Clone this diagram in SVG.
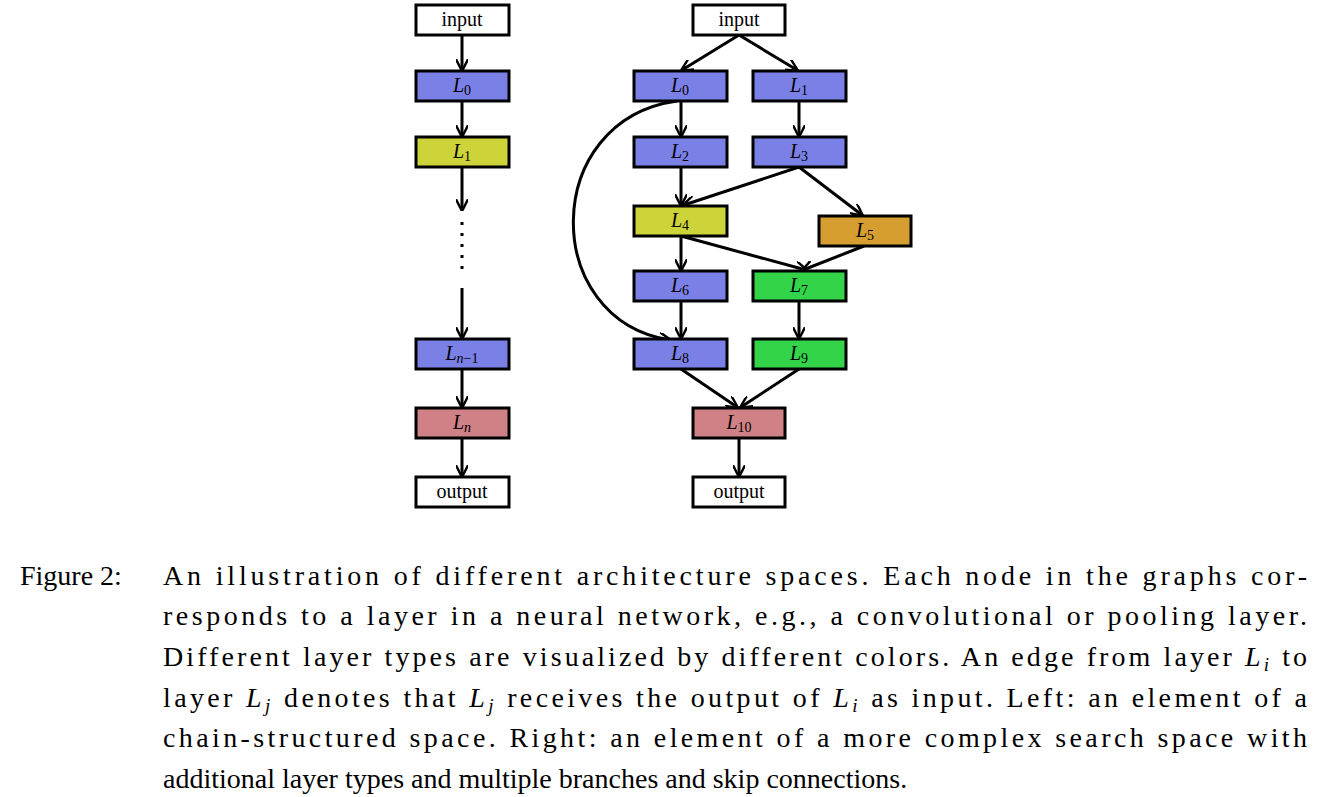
<svg xmlns="http://www.w3.org/2000/svg" width="1321" height="797" viewBox="0 0 1321 797">
<style>
.n rect{stroke:#000;stroke-width:3}
.n text{font-family:"Liberation Serif","Times New Roman","DejaVu Serif",serif;font-size:20px;text-anchor:middle}
.m{font-style:italic}
.w{fill:#fff}.b{fill:#7b80e6}.y{fill:#cdd43a}.o{fill:#d69d31}.g{fill:#33d44a}.r{fill:#cf8185}
#edges path{fill:none;stroke:#000;stroke-width:3;marker-end:url(#a2)}
.c{font-family:"Liberation Serif","Times New Roman","DejaVu Serif",serif;font-size:28px}
</style>
<defs>
<marker id="a2" viewBox="0 0 10 10" refX="9" refY="5" markerWidth="12" markerHeight="12" orient="auto" markerUnits="userSpaceOnUse"><path d="M0,0 L10,5 L0,10" fill="none" stroke="#000" stroke-width="2"/></marker></defs>
<g id="edges">
<path d="M462,35 V70"/><path d="M462,101 V136"/><path d="M462,167 V210"/>
<path d="M462,288 V338"/><path d="M462,369 V407"/><path d="M462,438 V476"/>
<path d="M739,35 L682,70"/><path d="M739,35 L797,70"/>
<path d="M681,101 V136"/><path d="M799,101 V136"/>
<path d="M681,167 V205"/><path d="M799,167 L684,205"/><path d="M799,167 L862,215"/>
<path d="M681,236 V270"/><path d="M681,236 L806,270"/><path d="M864,246 L803,270"/>
<path d="M681,301 V338"/><path d="M799,301 V338"/>
<path d="M681,369 L737,407"/><path d="M799,369 L741,407"/>
<path d="M739,438 V476"/>
<path d="M677,101 C540,120 540,320 670,340"/>
</g>
<g stroke="#000" stroke-width="3" stroke-dasharray="3,8"><path d="M462,222 V275"/></g>
<g class="n" id="l_in"><rect class="w" x="416" y="5" width="93" height="30"/><text x="462" y="26">input</text></g>
<g class="n" id="l_L0"><rect class="b" x="416" y="71" width="93" height="30"/><text x="462" y="92"><tspan class="m">L</tspan><tspan font-size="14" dy="3">0</tspan></text></g>
<g class="n" id="l_L1"><rect class="y" x="416" y="137" width="93" height="30"/><text x="462" y="158"><tspan class="m">L</tspan><tspan font-size="14" dy="3">1</tspan></text></g>
<g class="n" id="l_Ln1"><rect class="b" x="416" y="339" width="93" height="30"/><text x="462" y="360"><tspan class="m">L</tspan><tspan font-size="14" dy="3"><tspan class="m">n</tspan>−1</tspan></text></g>
<g class="n" id="l_Ln"><rect class="r" x="416" y="408" width="93" height="30"/><text x="462" y="429"><tspan class="m">L</tspan><tspan font-size="14" dy="3" class="m">n</tspan></text></g>
<g class="n" id="l_out"><rect class="w" x="416" y="477" width="93" height="30"/><text x="462" y="498">output</text></g>
<g class="n" id="r_in"><rect class="w" x="693" y="5" width="92" height="30"/><text x="739" y="26">input</text></g>
<g class="n" id="r_L0"><rect class="b" x="634" y="71" width="93" height="30"/><text x="680" y="92"><tspan class="m">L</tspan><tspan font-size="14" dy="3">0</tspan></text></g>
<g class="n" id="r_L1"><rect class="b" x="753" y="71" width="93" height="30"/><text x="799" y="92"><tspan class="m">L</tspan><tspan font-size="14" dy="3">1</tspan></text></g>
<g class="n" id="r_L2"><rect class="b" x="634" y="137" width="93" height="30"/><text x="680" y="158"><tspan class="m">L</tspan><tspan font-size="14" dy="3">2</tspan></text></g>
<g class="n" id="r_L3"><rect class="b" x="753" y="137" width="93" height="30"/><text x="799" y="158"><tspan class="m">L</tspan><tspan font-size="14" dy="3">3</tspan></text></g>
<g class="n" id="r_L4"><rect class="y" x="634" y="206" width="93" height="30"/><text x="680" y="227"><tspan class="m">L</tspan><tspan font-size="14" dy="3">4</tspan></text></g>
<g class="n" id="r_L5"><rect class="o" x="819" y="216" width="92" height="30"/><text x="865" y="237"><tspan class="m">L</tspan><tspan font-size="14" dy="3">5</tspan></text></g>
<g class="n" id="r_L6"><rect class="b" x="634" y="271" width="93" height="30"/><text x="680" y="292"><tspan class="m">L</tspan><tspan font-size="14" dy="3">6</tspan></text></g>
<g class="n" id="r_L7"><rect class="g" x="753" y="271" width="93" height="30"/><text x="799" y="292"><tspan class="m">L</tspan><tspan font-size="14" dy="3">7</tspan></text></g>
<g class="n" id="r_L8"><rect class="b" x="634" y="339" width="93" height="30"/><text x="680" y="360"><tspan class="m">L</tspan><tspan font-size="14" dy="3">8</tspan></text></g>
<g class="n" id="r_L9"><rect class="g" x="753" y="339" width="93" height="30"/><text x="799" y="360"><tspan class="m">L</tspan><tspan font-size="14" dy="3">9</tspan></text></g>
<g class="n" id="r_L10"><rect class="r" x="693" y="408" width="92" height="30"/><text x="739" y="429"><tspan class="m">L</tspan><tspan font-size="14" dy="3">10</tspan></text></g>
<g class="n" id="r_out"><rect class="w" x="693" y="477" width="92" height="30"/><text x="739" y="498">output</text></g>
<g id="caption" class="c">
<text x="20" y="585">Figure 2:</text>
<text x="163" y="585" textLength="1144" lengthAdjust="spacing">An illustration of different architecture spaces.  Each node in the graphs cor-</text>
<text x="163" y="625" textLength="1144" lengthAdjust="spacing">responds to a layer in a neural network, e.g., a convolutional or pooling layer.</text>
<text x="163" y="666" textLength="1144" lengthAdjust="spacing">Different layer types are visualized by different colors. An edge from layer <tspan font-style="italic">L</tspan><tspan font-style="italic" font-size="19" dy="5">i</tspan><tspan dy="-5"> to</tspan></text>
<text x="163" y="707" textLength="1144" lengthAdjust="spacing">layer <tspan font-style="italic">L</tspan><tspan font-style="italic" font-size="19" dy="5">j</tspan><tspan dy="-5"> denotes that </tspan><tspan font-style="italic">L</tspan><tspan font-style="italic" font-size="19" dy="5">j</tspan><tspan dy="-5"> receives the output of </tspan><tspan font-style="italic">L</tspan><tspan font-style="italic" font-size="19" dy="5">i</tspan><tspan dy="-5"> as input. Left: an element of a</tspan></text>
<text x="163" y="747" textLength="1144" lengthAdjust="spacing">chain-structured space.  Right: an element of a more complex search space with</text>
<text x="163" y="788">additional layer types and multiple branches and skip connections.</text>
</g>
</svg>
